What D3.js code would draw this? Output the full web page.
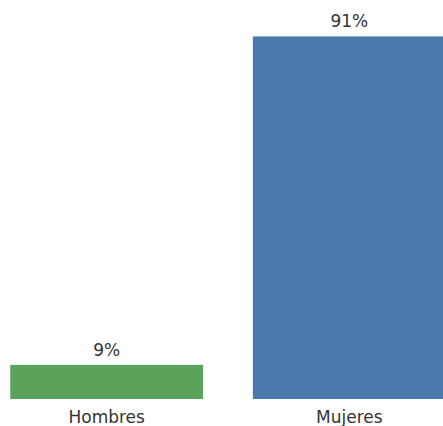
<!DOCTYPE html>
<html>
  <head>
    <meta charset="utf-8" />
    <title>Hombres vs Mujeres</title>
    <script src="https://d3js.org/d3.v7.min.js"></script>
    <style>
      body { margin: 0; background: #fff; }
    </style>
  </head>
  <body>
    <svg width="443" height="426"></svg>
    <script>
      // Data
      var categories = ["Hombres", "Mujeres"];
      var values = [8.6, 91.4];
      var valueLabels = ["9%", "91%"];
      var colors = ["#5ba35a", "#4a7aab"];

      var svg = d3.select("svg");

      // x: centers at ~106 and ~348
      var x = d3.scaleBand()
        .domain(categories)
        .range([-14, 470])
        .paddingInner(0.205)
        .paddingOuter(0.1);

      var y = d3.scaleLinear().domain([0, 100]).range([399, 2.3]);

      var data = categories.map(function (c, i) {
        return { label: c, value: values[i], text: valueLabels[i], color: colors[i] };
      });

      // bars
      svg.selectAll(".bar")
        .data(data)
        .enter()
        .append("rect")
        .attr("class", "bar")
        .attr("x", function (d) { return x(d.label); })
        .attr("y", function (d) { return y(d.value); })
        .attr("width", x.bandwidth())
        .attr("height", function (d) { return y(0) - y(d.value); })
        .attr("fill", function (d) { return d.color; });

      // value labels
      svg.selectAll(".val")
        .data(data)
        .enter()
        .append("text")
        .attr("class", "val")
        .attr("text-anchor", "middle")
        .attr("x", function (d) { return x(d.label) + x.bandwidth() / 2; })
        .attr("y", function (d) { return y(d.value) - 9; })
        .text(function (d) { return d.text; })
        .style("font-size", "17px")
        .style("font-family", "DejaVu Sans")
        .style("fill", "#333");

      // x axis (no line, no ticks)
      var xAxis = svg.append("g")
        .attr("transform", "translate(0," + y(0) + ")")
        .call(d3.axisBottom(x).tickSize(0).tickPadding(12));
      xAxis.select(".domain").remove();
      xAxis.selectAll("text")
        .style("font-size", "17px")
        .style("font-family", "DejaVu Sans")
        .style("fill", "#333");
    </script>
  </body>
</html>
